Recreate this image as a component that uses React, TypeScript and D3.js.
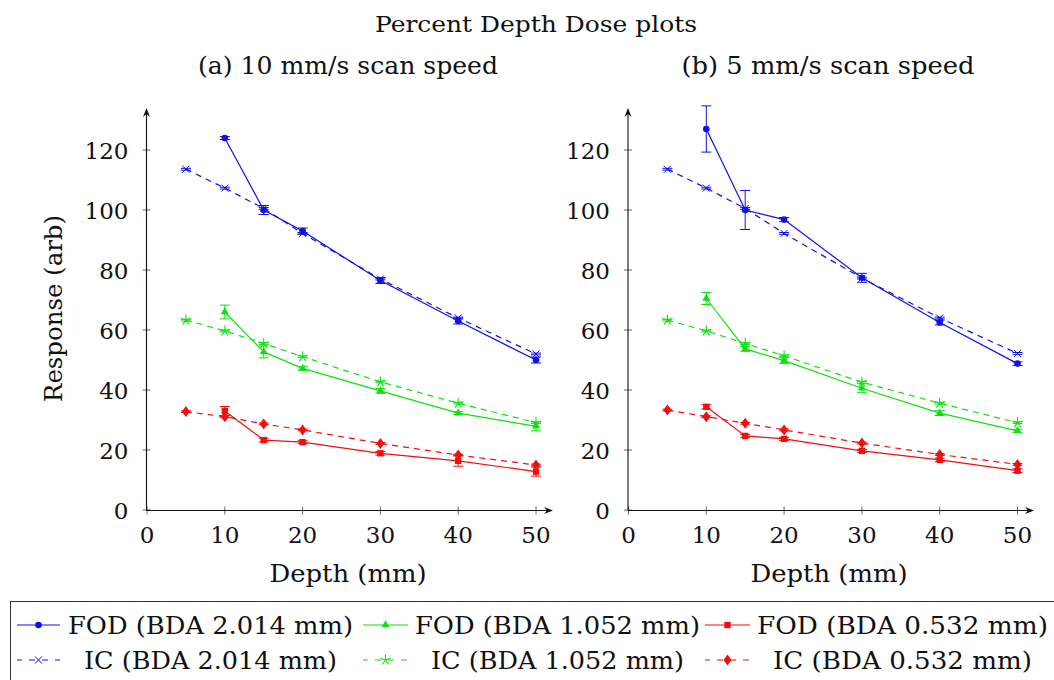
import { useEffect, useRef } from "react";
import * as d3 from "d3";

// depths (mm)
const depthsFOD = [10, 15, 20, 30, 40, 50];
const depthsIC = [5, 10, 15, 20, 30, 40, 50];

// (a) 10 mm/s
const fodA2014 = [124, 100, 93, 76.5, 63, 50];
const fodA2014Err = [0.5, 1.5, 1, 1, 1, 1];
const fodA1052 = [66, 52.7, 47.2, 39.7, 32.3, 27.9];
const fodA1052Err = [2.3, 2, 0.6, 0.8, 0.5, 1.5];
const fodA0532 = [33, 23.3, 22.6, 18.9, 16.4, 12.8];
const fodA0532Err = [1.5, 0.6, 0.5, 0.6, 1.8, 1.5];
const icA2014 = [113.6, 107.3, 100.5, 92.2, 77, 64, 52];
const icA1052 = [63.3, 59.7, 55.5, 51.1, 42.7, 35.6, 29.1];
const icA0532 = [32.8, 31.1, 28.7, 26.7, 22.2, 18.3, 15];

// (b) 5 mm/s
const fodB2014 = [127, 100, 96.8, 77.4, 62.5, 48.8];
const fodB2014Err = [7.7, 6.5, 0.7, 1.5, 0.8, 0.6];
const fodB1052 = [70.5, 53.7, 49.8, 40.6, 32.3, 26.4];
const fodB1052Err = [2, 0.8, 1, 1.5, 0.8, 0.5];
const fodB0532 = [34.4, 24.7, 23.7, 19.7, 16.7, 13.1];
const fodB0532Err = [0.7, 0.5, 0.5, 0.5, 0.6, 0.6];
const icB2014 = [113.6, 107.3, 100.5, 92.2, 77.3, 64, 52.2];
const icB1052 = [63.3, 59.7, 55.5, 51.4, 42.6, 35.6, 29.1];
const icB0532 = [33.3, 31.1, 28.9, 26.7, 22.3, 18.5, 15.2];

const icErr = [0.3, 0.3, 0.3, 0.3, 0.3, 0.3, 0.3];

const xTicks = [0, 10, 20, 30, 40, 50];
const yTicks = [0, 20, 40, 60, 80, 100, 120];

const legendLabels = [
    "FOD (BDA 2.014 mm)", "FOD (BDA 1.052 mm)", "FOD (BDA 0.532 mm)",
    "IC (BDA 2.014 mm)", "IC (BDA 1.052 mm)", "IC (BDA 0.532 mm)",
];

const BLUE = "#1010e8";
const GREEN = "#10e010";
const RED = "#ee1010";
const FONT = '"DejaVu Serif", "Liberation Serif", serif';

export default function App() {
    const svgRef = useRef(null);

    useEffect(() => {
        const svg = d3.select(svgRef.current);
        svg.selectAll("*").remove();

        // marker drawing
        const drawMark = (g, kind, x, y, color) => {
            if (kind === "circle") {
                g.append("circle").attr("cx", x).attr("cy", y).attr("r", 3.3).attr("fill", color);
            } else if (kind === "triangle") {
                g.append("path").attr("d", d3.symbol(d3.symbolTriangle, 28)()).attr("transform", `translate(${x},${y})`).attr("fill", color);
            } else if (kind === "square") {
                g.append("rect").attr("x", x - 3.2).attr("y", y - 3.2).attr("width", 6.4).attr("height", 6.4).attr("fill", color);
            } else if (kind === "diamond") {
                g.append("path").attr("d", `M${x},${y - 5.5}L${x + 4},${y}L${x},${y + 5.5}L${x - 4},${y}Z`).attr("fill", color);
            } else if (kind === "x") {
                const s = 3.5;
                g.append("path").attr("d", `M${x - s},${y - s}L${x + s},${y + s}M${x - s},${y + s}L${x + s},${y - s}`)
                    .attr("stroke", color).attr("stroke-width", 1);
            } else if (kind === "star") {
                const r = 5.5;
                let d = "";
                for (let i = 0; i < 5; i++) {
                    const a = -Math.PI / 2 + i * 2 * Math.PI / 5;
                    d += `M${x},${y}L${x + r * Math.cos(a)},${y + r * Math.sin(a)}`;
                }
                g.append("path").attr("d", d).attr("stroke", color).attr("stroke-width", 1.1);
            }
        };

        const drawPanel = (x0, x1, xMaxArrow, series) => {
            const xScale = d3.scaleLinear().domain([0, 50]).range([x0, x1]);
            const yScale = d3.scaleLinear().domain([0, 120]).range([510, 150]);
            const g = svg.append("g");
            const yAxisX = xScale(0) - 0.5;
            const xAxisY = yScale(0) + 0.5;

            // ticks
            yTicks.forEach(t => {
                g.append("line").attr("x1", yAxisX - 4).attr("x2", yAxisX + 4)
                    .attr("y1", yScale(t)).attr("y2", yScale(t)).attr("stroke", "#555").attr("stroke-width", 0.9);
                g.append("text").attr("x", yAxisX - 18).attr("y", yScale(t) + 8.5)
                    .attr("text-anchor", "end").attr("font-size", 23).style("font-family", FONT).attr("fill", "#111")
                    .text(t);
            });
            xTicks.forEach(t => {
                g.append("line").attr("x1", xScale(t)).attr("x2", xScale(t))
                    .attr("y1", xAxisY - 4).attr("y2", xAxisY + 4).attr("stroke", "#555").attr("stroke-width", 0.9);
                g.append("text").attr("x", xScale(t)).attr("y", 543)
                    .attr("text-anchor", "middle").attr("font-size", 23).style("font-family", FONT).attr("fill", "#111")
                    .text(t);
            });

            // axes with arrows
            g.append("line").attr("x1", yAxisX).attr("x2", yAxisX).attr("y1", xAxisY).attr("y2", 111)
                .attr("stroke", "#111").attr("stroke-width", 1.1);
            g.append("path").attr("d", `M${yAxisX - 3.5},${117}L${yAxisX},${108}L${yAxisX + 3.5},${117}L${yAxisX},${114}Z`).attr("fill", "#111");
            g.append("line").attr("x1", yAxisX).attr("x2", xMaxArrow - 2).attr("y1", xAxisY).attr("y2", xAxisY)
                .attr("stroke", "#111").attr("stroke-width", 1.1);
            g.append("path").attr("d", `M${xMaxArrow - 6},${xAxisY - 3.5}L${xMaxArrow + 3},${xAxisY}L${xMaxArrow - 6},${xAxisY + 3.5}L${xMaxArrow - 3},${xAxisY}Z`).attr("fill", "#111");

            // series
            series.forEach(s => {
                const pts = s.xs.map((d, i) => ({ x: d, y: s.ys[i], e: s.err[i] }));
                const line = d3.line().x(d => xScale(d.x)).y(d => yScale(d.y));
                g.append("path").datum(pts).attr("d", line).attr("fill", "none")
                    .attr("stroke", s.color).attr("stroke-width", 1.2)
                    .attr("stroke-dasharray", s.dashed ? "6,5" : null);
                pts.forEach(p => {
                    const cx = xScale(p.x);
                    const top = yScale(p.y + p.e);
                    const bot = yScale(p.y - p.e);
                    const eg = g.append("g").attr("stroke", s.color).attr("stroke-width", 1);
                    eg.append("line").attr("x1", cx).attr("x2", cx).attr("y1", top).attr("y2", bot);
                    eg.append("line").attr("x1", cx - 5).attr("x2", cx + 5).attr("y1", top).attr("y2", top);
                    eg.append("line").attr("x1", cx - 5).attr("x2", cx + 5).attr("y1", bot).attr("y2", bot);
                    drawMark(g, s.mark, cx, yScale(p.y), s.color);
                });
            });
        };

        const seriesA = [
            { xs: depthsIC, ys: icA2014, err: icErr, color: BLUE, dashed: true, mark: "x" },
            { xs: depthsIC, ys: icA1052, err: icErr, color: GREEN, dashed: true, mark: "star" },
            { xs: depthsIC, ys: icA0532, err: icErr, color: RED, dashed: true, mark: "diamond" },
            { xs: depthsFOD, ys: fodA2014, err: fodA2014Err, color: BLUE, dashed: false, mark: "circle" },
            { xs: depthsFOD, ys: fodA1052, err: fodA1052Err, color: GREEN, dashed: false, mark: "triangle" },
            { xs: depthsFOD, ys: fodA0532, err: fodA0532Err, color: RED, dashed: false, mark: "square" },
        ];
        const seriesB = [
            { xs: depthsIC, ys: icB2014, err: icErr, color: BLUE, dashed: true, mark: "x" },
            { xs: depthsIC, ys: icB1052, err: icErr, color: GREEN, dashed: true, mark: "star" },
            { xs: depthsIC, ys: icB0532, err: icErr, color: RED, dashed: true, mark: "diamond" },
            { xs: depthsFOD, ys: fodB2014, err: fodB2014Err, color: BLUE, dashed: false, mark: "circle" },
            { xs: depthsFOD, ys: fodB1052, err: fodB1052Err, color: GREEN, dashed: false, mark: "triangle" },
            { xs: depthsFOD, ys: fodB0532, err: fodB0532Err, color: RED, dashed: false, mark: "square" },
        ];

        drawPanel(147, 536, 550, seriesA);
        drawPanel(628.5, 1017.5, 1031, seriesB);

        // titles and labels
        const txt = (x, y, s, size, len, anchor = "middle") =>
            svg.append("text").attr("x", x).attr("y", y).attr("text-anchor", anchor)
                .attr("font-size", size).style("font-family", FONT).attr("fill", "#111")
                .attr("textLength", len).attr("lengthAdjust", "spacingAndGlyphs").text(s);

        txt(536, 32, "Percent Depth Dose plots", 23, 322);
        txt(348, 74, "(a) 10 mm/s scan speed", 24, 300);
        txt(828, 74, "(b) 5 mm/s scan speed", 24, 293);
        txt(348, 582, "Depth (mm)", 24, 157);
        txt(829, 582, "Depth (mm)", 24, 157);
        txt(0, 0, "Response (arb)", 24, 187).attr("transform", "translate(62,308.5) rotate(-90)");

        // legend
        const lg = svg.append("g");
        lg.append("rect").attr("x", 10.5).attr("y", 601.5).attr("width", 1060).attr("height", 100)
            .attr("fill", "white").attr("stroke", "#333").attr("stroke-width", 1);
        const cols = [
            { lx: 17, lw: 43, tc: 210.5, tw: 285 },
            { lx: 363, lw: 45, tc: 557.5, tw: 285 },
            { lx: 705, lw: 45, tc: 902.5, tw: 291 },
        ];
        const legendItems = [
            { color: BLUE, dashed: false, mark: "circle" },
            { color: GREEN, dashed: false, mark: "triangle" },
            { color: RED, dashed: false, mark: "square" },
            { color: BLUE, dashed: true, mark: "x" },
            { color: GREEN, dashed: true, mark: "star" },
            { color: RED, dashed: true, mark: "diamond" },
        ];
        legendItems.forEach((it, i) => {
            const c = cols[i % 3];
            const row = Math.floor(i / 3);
            const cy = row === 0 ? 625 : 660;
            lg.append("line").attr("x1", c.lx).attr("x2", c.lx + c.lw).attr("y1", cy).attr("y2", cy)
                .attr("stroke", it.color).attr("stroke-width", 1.2)
                .attr("stroke-dasharray", it.dashed ? "6,7" : null)
                .attr("stroke-dashoffset", it.dashed ? 1 : 0);
            drawMark(lg, it.mark, c.lx + c.lw / 2, cy, it.color);
            const tw = row === 0 ? c.tw : c.tw - 32;
            lg.append("text").attr("x", c.tc).attr("y", cy + 9).attr("text-anchor", "middle")
                .attr("font-size", 24).style("font-family", FONT).attr("fill", "#111")
                .attr("textLength", tw).attr("lengthAdjust", "spacingAndGlyphs").text(legendLabels[i]);
        });
    }, []);

    return (
        <svg ref={svgRef} width={1054} height={680}
            style={{ position: "absolute", left: 0, top: 0, background: "white" }} />
    );
}
